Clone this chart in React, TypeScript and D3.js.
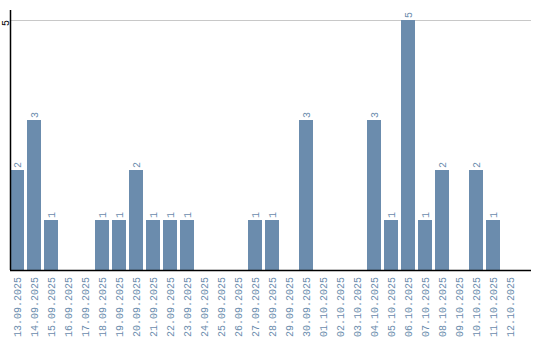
import React from "react";
import * as d3 from "d3";

const dates = [
  "13.09.2025", "14.09.2025", "15.09.2025", "16.09.2025", "17.09.2025",
  "18.09.2025", "19.09.2025", "20.09.2025", "21.09.2025", "22.09.2025",
  "23.09.2025", "24.09.2025", "25.09.2025", "26.09.2025", "27.09.2025",
  "28.09.2025", "29.09.2025", "30.09.2025", "01.10.2025", "02.10.2025",
  "03.10.2025", "04.10.2025", "05.10.2025", "06.10.2025", "07.10.2025",
  "08.10.2025", "09.10.2025", "10.10.2025", "11.10.2025", "12.10.2025",
];
const counts = [2, 3, 1, 0, 0, 1, 1, 2, 1, 1, 1, 0, 0, 0, 1, 1, 0, 3, 0, 0, 0, 3, 1, 5, 1, 2, 0, 2, 1, 0];
const yTicks = [5];

const W = 540;
const H = 340;
const left = 10;
const baseY = 270;
const topY = 20;
const axisRight = 531;
const color = "#6b8cad";
const font = "'Liberation Mono', 'DejaVu Sans Mono', monospace";

export default function App() {
  const step = 17;
  const p = 3 / 17;
  const x = d3
    .scaleBand<string>()
    .domain(dates)
    .range([left, left + dates.length * step])
    .paddingInner(p)
    .paddingOuter(p / 2)
    .align(0);
  const y = d3.scaleLinear().domain([0, 5]).range([baseY, topY]);

  return (
    <svg width={W} height={H} style={{ position: "absolute", left: 0, top: 0 }}>
      <rect width={W} height={H} fill="#fff" />
      {yTicks.map((t) => (
        <g key={t}>
          <line x1={left} x2={axisRight} y1={y(t) + 0.5} y2={y(t) + 0.5} stroke="#c8c8c8" strokeWidth={1} />
          <text
            transform={`translate(${5},${y(t)}) rotate(-90)`}
            textAnchor="end"
            dy="0.35em"
            fontSize={10}
            fontFamily={font}
            fill="#000"
          >
            {t}
          </text>
        </g>
      ))}
      {dates.map((d, i) =>
        counts[i] > 0 ? (
          <g key={d}>
            <rect
              x={x(d)}
              y={y(counts[i])}
              width={x.bandwidth()}
              height={baseY - y(counts[i])}
              fill={color}
            />
            <text
              transform={`translate(${(x(d) as number) + x.bandwidth() / 2},${y(counts[i]) - 2}) rotate(-90)`}
              textAnchor="start"
              dy="0.35em"
              fontSize={10}
              fontFamily={font}
              fill={color}
            >
              {counts[i]}
            </text>
          </g>
        ) : null
      )}
      <line x1={left + 0.5} x2={left + 0.5} y1={10} y2={baseY} stroke="#000" strokeWidth={1.5} />
      <line x1={left} x2={axisRight} y1={baseY + 0.5} y2={baseY + 0.5} stroke="#000" strokeWidth={1.5} />
      {dates.map((d) => (
        <text
          key={"l" + d}
          transform={`translate(${(x(d) as number) + x.bandwidth() / 2},${baseY + 7}) rotate(-90)`}
          textAnchor="end"
          dy="0.35em"
          fontSize={10}
          fontFamily={font}
          fill={color}
        >
          {d}
        </text>
      ))}
    </svg>
  );
}
